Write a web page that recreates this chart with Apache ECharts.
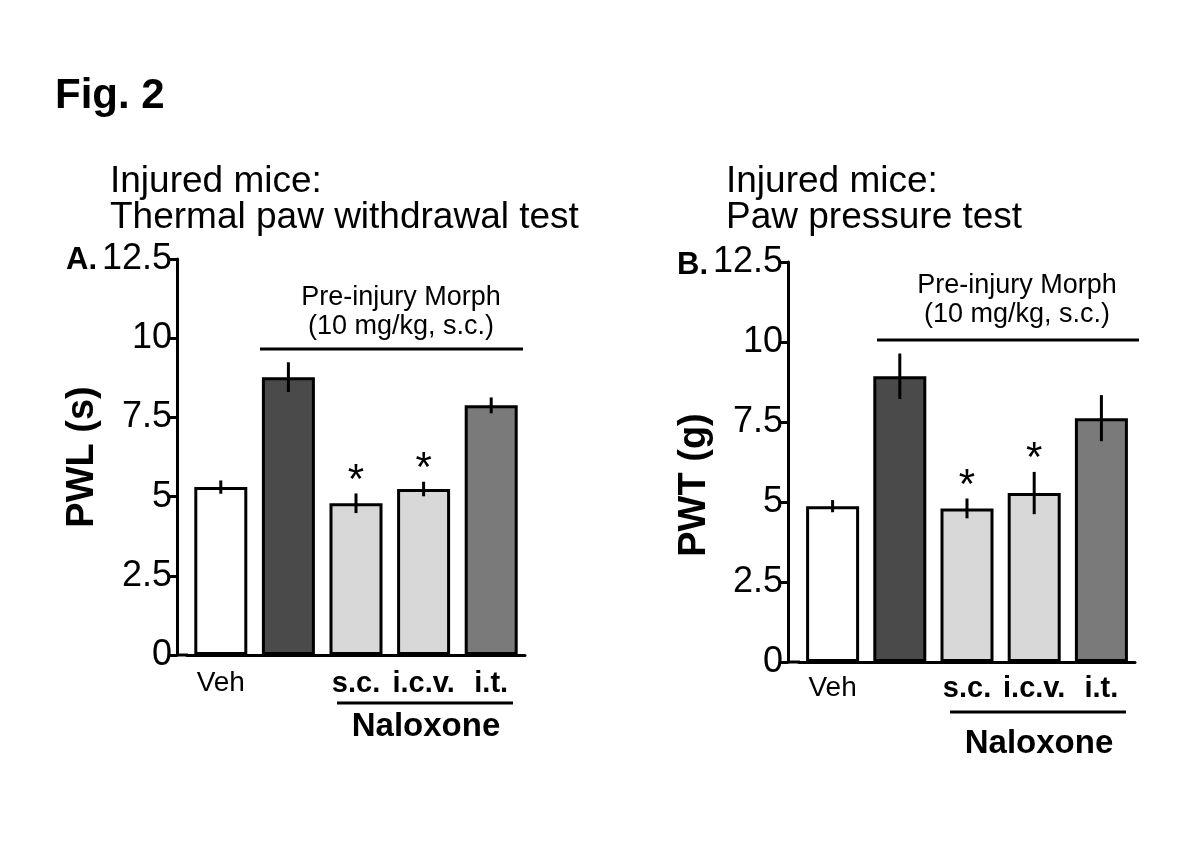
<!DOCTYPE html>
<html>
<head>
<meta charset="utf-8">
<script src="https://cdn.jsdelivr.net/npm/echarts@6/dist/echarts.min.js"></script>
<style>html,body{margin:0;padding:0;background:#fff;}#c{width:1200px;height:847px;}</style>
</head>
<body>
<div id="c"></div>
<script>
// ---- data ----
var categories = ['Veh', '', 's.c.', 'i.c.v.', 'i.t.'];
var barColors = ['#ffffff', '#4a4a4a', '#d8d8d8', '#d8d8d8', '#7a7a7a'];
var pwlMean = [5.3, 8.77, 4.79, 5.24, 7.88];
var pwlErr = [0.21, 0.47, 0.31, 0.23, 0.25];
var pwtMean = [4.87, 8.93, 4.8, 5.28, 7.62];
var pwtErr = [0.19, 0.71, 0.31, 0.66, 0.72];
var significant = [false, false, true, true, false];
var yTicks = [0, 2.5, 5, 7.5, 10, 12.5];

var FONT = '"Liberation Sans", Arial, sans-serif';
var chart = echarts.init(document.getElementById('c'));

function barData(means) {
  return means.map(function (v, i) {
    return { value: v, itemStyle: { color: barColors[i] } };
  });
}
function errData(means, errs) {
  return means.map(function (v, i) { return [i, v, errs[i], significant[i] ? 1 : 0]; });
}
function renderErr(params, api) {
  var i = api.value(0), m = api.value(1), e = api.value(2), sig = api.value(3);
  var top = api.coord([i, m + e]);
  var bot = api.coord([i, m - e]);
  var children = [{
    type: 'line',
    shape: { x1: top[0], y1: top[1], x2: bot[0], y2: bot[1] },
    style: { stroke: '#000', lineWidth: 3 }
  }];
  if (sig) {
    children.push({
      type: 'text',
      style: {
        text: '*', x: top[0], y: top[1] + 9, align: 'center', verticalAlign: 'bottom',
        font: '42px ' + FONT, fill: '#000'
      }
    });
  }
  return { type: 'group', children: children };
}

function xAxisCfg(gridIndex, margin) {
  return {
    type: 'category', gridIndex: gridIndex, data: categories,
    axisLine: { lineStyle: { color: '#000', width: 3 } },
    axisTick: { show: false },
    axisLabel: {
      margin: margin, interval: 0,
      formatter: function (v) { return v === 'Veh' ? '{n|' + v + '}' : '{b|' + v + '}'; },
      rich: {
        n: { fontSize: 28, fontFamily: FONT, color: '#000' },
        b: { fontSize: 29, fontFamily: FONT, fontWeight: 'bold', color: '#000' }
      }
    }
  };
}
function yAxisCfg(gridIndex, name, offset, gap, pad) {
  return {
    type: 'value', gridIndex: gridIndex, min: 0, max: 12.5, interval: 2.5, offset: offset,
    name: name, nameLocation: 'middle', nameRotate: 90, nameGap: gap, nameMoveOverlap: false,
    nameTextStyle: { fontSize: 38, fontWeight: 'bold', fontFamily: FONT, color: '#000', padding: pad },
    axisLine: { show: true, lineStyle: { color: '#000', width: 3 } },
    axisTick: { show: true, length: 9, lineStyle: { color: '#000', width: 3 } },
    axisLabel: { margin: 5, fontSize: 36, fontFamily: FONT, color: '#000' },
    splitLine: { show: false }
  };
}

var option = {
  backgroundColor: '#fff',
  animation: false,
  grid: [
    { left: 187, top: 259, width: 338, height: 396 },
    { left: 799, top: 262, width: 336, height: 400 }
  ],
  xAxis: [xAxisCfg(0, 14), xAxisCfg(1, 12)],
  yAxis: [yAxisCfg(0, 'PWL (s)', 10, 75, [0, 0, 0, 0]), yAxisCfg(1, 'PWT (g)', 11, 74, [0, 46, 0, 0])],
  series: [
    { type: 'bar', xAxisIndex: 0, yAxisIndex: 0, data: barData(pwlMean), barWidth: 53,
      itemStyle: { borderColor: '#000', borderWidth: 3 } },
    { type: 'custom', xAxisIndex: 0, yAxisIndex: 0, data: errData(pwlMean, pwlErr), renderItem: renderErr, z: 5 },
    { type: 'bar', xAxisIndex: 1, yAxisIndex: 1, data: barData(pwtMean), barWidth: 53,
      itemStyle: { borderColor: '#000', borderWidth: 3 } },
    { type: 'custom', xAxisIndex: 1, yAxisIndex: 1, data: errData(pwtMean, pwtErr), renderItem: renderErr, z: 5 }
  ],
  graphic: [
    { type: 'text', left: 55, top: 75, style: { text: 'Fig. 2', font: 'bold 42px ' + FONT, fill: '#000' } },
    { type: 'text', left: 110, top: 163, style: { text: 'Injured mice:\nThermal paw withdrawal test', font: '37px ' + FONT, lineHeight: 36, fill: '#000' } },
    { type: 'text', left: 726, top: 163, style: { text: 'Injured mice:\nPaw pressure test', font: '37px ' + FONT, lineHeight: 36, fill: '#000' } },
    { type: 'text', left: 66, top: 245, style: { text: 'A.', font: 'bold 31px ' + FONT, fill: '#000' } },
    { type: 'text', left: 677, top: 250, style: { text: 'B.', font: 'bold 31px ' + FONT, fill: '#000' } },
    // morphine group annotations
    { type: 'text', x: 401, y: 283, style: { text: 'Pre-injury Morph\n(10 mg/kg, s.c.)', font: '27px ' + FONT, lineHeight: 29, align: 'center', verticalAlign: 'top', fill: '#000' } },
    { type: 'line', shape: { x1: 260, y1: 349, x2: 523, y2: 349 }, style: { stroke: '#000', lineWidth: 3 } },
    { type: 'text', x: 1017, y: 271, style: { text: 'Pre-injury Morph\n(10 mg/kg, s.c.)', font: '27px ' + FONT, lineHeight: 29, align: 'center', verticalAlign: 'top', fill: '#000' } },
    { type: 'line', shape: { x1: 877, y1: 340, x2: 1139, y2: 340 }, style: { stroke: '#000', lineWidth: 3 } },
    // naloxone annotations
    { type: 'line', shape: { x1: 337, y1: 703, x2: 513, y2: 703 }, style: { stroke: '#000', lineWidth: 3 } },
    { type: 'text', x: 426, y: 727, style: { text: 'Naloxone', font: 'bold 33px ' + FONT, align: 'center', verticalAlign: 'middle', fill: '#000' } },
    { type: 'line', shape: { x1: 950, y1: 712, x2: 1126, y2: 712 }, style: { stroke: '#000', lineWidth: 3 } },
    { type: 'text', x: 1039, y: 744, style: { text: 'Naloxone', font: 'bold 33px ' + FONT, align: 'center', verticalAlign: 'middle', fill: '#000' } },
    // x-axis line continuation to the y axis
    { type: 'line', shape: { x1: 176, y1: 655, x2: 188, y2: 655 }, style: { stroke: '#000', lineWidth: 3 } },
    { type: 'line', shape: { x1: 787, y1: 662, x2: 800, y2: 662 }, style: { stroke: '#000', lineWidth: 3 } }
  ]
};
chart.setOption(option);
</script>
</body>
</html>
